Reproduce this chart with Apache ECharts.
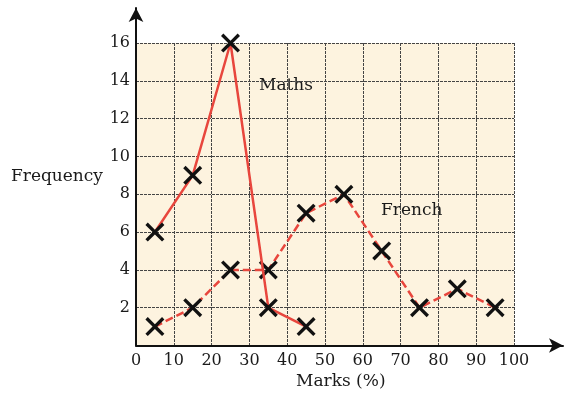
<!DOCTYPE html>
<html>
<head>
<meta charset="utf-8">
<script src="https://cdn.jsdelivr.net/npm/echarts@6/dist/echarts.min.js"></script>
<style>
  html, body { margin: 0; padding: 0; background: #fff; }
  #chart { width: 567px; height: 396px; }
</style>
</head>
<body>
<div id="chart"></div>
<script>
var marks = [5, 15, 25, 35, 45, 55, 65, 75, 85, 95];
var mathsMarks = [5, 15, 25, 35, 45];
var mathsFreq = [6, 9, 16, 2, 1];
var frenchFreq = [1, 2, 4, 4, 7, 8, 5, 2, 3, 2];
var xTicks = [0, 10, 20, 30, 40, 50, 60, 70, 80, 90, 100];
var yTicks = [2, 4, 6, 8, 10, 12, 14, 16];

var chartDom = document.getElementById('chart');
var myChart = echarts.init(chartDom);
var option;

var font = 'DejaVu Serif';
var red = '#e8463d';
// cross marker drawn as a filled X
var cross = 'path://M2.5,0L10,7.5L17.5,0L20,2.5L12.5,10L20,17.5L17.5,20L10,12.5L2.5,20L0,17.5L7.5,10L0,2.5Z';

option = {
  animation: false,
  grid: [
    { left: 136, right: 53, top: 43, bottom: 50.5, show: true, backgroundColor: '#fdf3df', borderWidth: 0 },
    { left: 136, right: 4, top: 8, bottom: 50.5 }
  ],
  xAxis: [
    {
      type: 'value', gridIndex: 0, min: 0, max: 100, interval: 10,
      axisLine: { show: false },
      axisTick: { show: false },
      axisLabel: {
        margin: 7, color: '#1a1a1a', fontFamily: font, fontSize: 16,
        formatter: function (v) { return xTicks.indexOf(v) >= 0 ? String(v) : ''; }
      },
      splitLine: { show: true, lineStyle: { color: '#444', type: [3, 1], width: 1 } }
    },
    {
      type: 'value', gridIndex: 1, min: 0, max: 1,
      axisLine: { show: true, onZero: false, symbol: ['none', 'arrow'], symbolSize: [11, 14], lineStyle: { color: '#111', width: 2 } },
      axisTick: { show: false }, axisLabel: { show: false }, splitLine: { show: false }
    }
  ],
  yAxis: [
    {
      type: 'value', gridIndex: 0, min: 0, max: 16, interval: 2,
      axisLine: { show: false },
      axisTick: { show: false },
      axisLabel: {
        margin: 6, color: '#1a1a1a', fontFamily: font, fontSize: 16,
        formatter: function (v) { return yTicks.indexOf(v) >= 0 ? String(v) : ''; }
      },
      splitLine: { show: true, lineStyle: { color: '#444', type: [3, 1], width: 1 } }
    },
    {
      type: 'value', gridIndex: 1, min: 0, max: 1,
      axisLine: { show: true, onZero: false, symbol: ['none', 'arrow'], symbolSize: [11, 14], lineStyle: { color: '#111', width: 2 } },
      axisTick: { show: false }, axisLabel: { show: false }, splitLine: { show: false }
    }
  ],
  series: [
    {
      name: 'French', type: 'line', xAxisIndex: 0, yAxisIndex: 0,
      data: marks.map(function (m, i) { return [m, frenchFreq[i]]; }),
      lineStyle: { color: red, width: 2.5, type: [8, 4] },
      symbol: cross, symbolSize: 19, showAllSymbol: true,
      itemStyle: { color: '#111' }, z: 3
    },
    {
      name: 'Maths', type: 'line', xAxisIndex: 0, yAxisIndex: 0,
      data: mathsMarks.map(function (m, i) { return [m, mathsFreq[i]]; }),
      lineStyle: { color: red, width: 2.5 },
      symbol: cross, symbolSize: 19, showAllSymbol: true,
      itemStyle: { color: '#111' }, z: 4
    }
  ],
  graphic: [
    { type: 'text', left: 259, top: 77, style: { text: 'Maths', font: '17px "DejaVu Serif"', fill: '#1a1a1a' } },
    { type: 'text', left: 381, top: 202, style: { text: 'French', font: '17px "DejaVu Serif"', fill: '#1a1a1a' } },
    { type: 'text', left: 11, top: 168, style: { text: 'Frequency', font: '17px "DejaVu Serif"', fill: '#1a1a1a' } },
    { type: 'text', left: 296, top: 373, style: { text: 'Marks (%)', font: '17px "DejaVu Serif"', fill: '#1a1a1a' } }
  ]
};

option && myChart.setOption(option);
</script>
</body>
</html>
